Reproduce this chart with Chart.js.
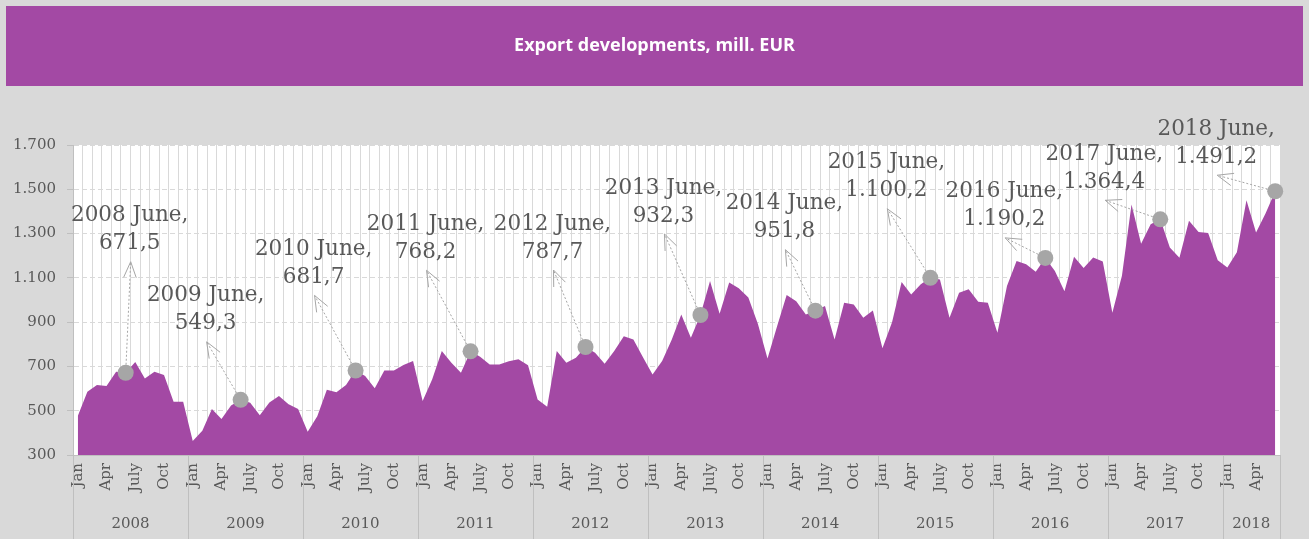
<!DOCTYPE html>
<html><head><meta charset="utf-8">
<script src="https://cdn.jsdelivr.net/npm/chart.js@4.4.0/dist/chart.umd.min.js"></script>
<style>html,body{margin:0;padding:0;background:#d9d9d9;overflow:hidden}</style>
</head><body>
<canvas id="c" width="1309" height="539"></canvas>
<script>
// ---- data ----
const chartTitle = 'Export developments, mill. EUR';
const years = [2008, 2009, 2010, 2011, 2012, 2013, 2014, 2015, 2016, 2017, 2018];
const monthTicks = ['Jan', '', '', 'Apr', '', '', 'July', '', '', 'Oct', '', ''];
const highlightMonth = 5; // June
const exp2008 = [476, 586, 616, 612, 676, 671.5, 720, 646, 676, 661, 541, 541];
const exp2009 = [363, 410, 508, 463, 524, 549.3, 536, 480, 537, 566, 529, 508];
const exp2010 = [405, 475, 595, 583, 616, 681.7, 657, 601, 682, 682, 706, 724];
const exp2011 = [544, 642, 770, 717, 672, 768.2, 744, 709, 709, 723, 732, 705];
const exp2012 = [551, 518, 770, 717, 739, 787.7, 762, 712, 770, 836, 822, 742];
const exp2013 = [663, 725, 821, 934, 829, 932.3, 1086, 938, 1079, 1053, 1011, 892];
const exp2014 = [736, 882, 1023, 994, 935, 951.8, 973, 822, 988, 980, 920, 953];
const exp2015 = [782, 900, 1081, 1025, 1071, 1100.2, 1093, 920, 1033, 1048, 992, 988];
const exp2016 = [852, 1063, 1176, 1161, 1128, 1190.2, 1131, 1040, 1195, 1145, 1192, 1174];
const exp2017 = [942, 1109, 1431, 1254, 1342, 1364.4, 1237, 1191, 1358, 1307, 1303, 1180];
const exp2018 = [1147, 1216, 1450, 1305, 1392, 1491.2];
const yTicks = [300, 500, 700, 900, 1100, 1300, 1500, 1700];

// ---- styling (callout arrow-head offsets from the marker, px) ----
const calloutOffsets = [[5,-111],[-34,-58],[-41,-75],[-44,-81],[-32,-77],[-36,-81],[-30,-61],[-43,-69],[-40,-20],[-55,-19],[-58,-16]];

const series = [exp2008, exp2009, exp2010, exp2011, exp2012, exp2013, exp2014, exp2015, exp2016, exp2017, exp2018];
const values = [].concat(...series);
const labels = [];
series.forEach((arr, k) => arr.forEach((v, m) => labels.push(years[k] + '-' + (m + 1))));

const SERIF = '"DejaVu Serif", "Liberation Serif", serif';
const TXT = '#595959';
const AXIS = '#bfbfbf';

function fmtThousands(n) {
  return String(n).replace(/\B(?=(\d{3})+(?!\d))/g, '.');
}
function fmtValue(v) {
  const parts = v.toFixed(1).split('.');
  return fmtThousands(parts[0]) + ',' + parts[1];
}

const decor = {
  id: 'decor',
  beforeDraw(chart) {
    const { ctx, chartArea: a, width } = chart;
    ctx.save();
    ctx.fillStyle = '#d9d9d9';
    ctx.fillRect(0, 0, chart.width, chart.height);
    ctx.fillStyle = '#a349a4';
    ctx.fillRect(6, 6, width - 12, 80);
    ctx.fillStyle = '#ffffff';
    ctx.font = 'bold 18px "Open Sans", sans-serif';
    ctx.textAlign = 'center';
    ctx.textBaseline = 'middle';
    ctx.fillText(chartTitle, width / 2, 46);
    ctx.fillStyle = '#ffffff';
    ctx.fillRect(a.left, a.top, a.right - a.left, a.bottom - a.top);
    ctx.restore();
  },
  afterDraw(chart) {
    const { ctx, chartArea: a } = chart;
    const xs = chart.scales.x, ys = chart.scales.y;
    const step = xs.getPixelForValue(1) - xs.getPixelForValue(0);
    ctx.save();
    // year groups
    ctx.strokeStyle = AXIS;
    ctx.lineWidth = 1;
    ctx.fillStyle = TXT;
    ctx.font = '15px ' + SERIF;
    ctx.textAlign = 'center';
    ctx.textBaseline = 'middle';
    let idx = 0;
    series.forEach((arr, k) => {
      const left = xs.getPixelForValue(idx) - step / 2;
      const right = xs.getPixelForValue(idx + arr.length - 1) + step / 2;
      ctx.beginPath();
      ctx.moveTo(Math.round(left) + 0.5, a.bottom);
      ctx.lineTo(Math.round(left) + 0.5, chart.height);
      ctx.stroke();
      if (k === series.length - 1) {
        ctx.beginPath();
        ctx.moveTo(Math.round(right) + 0.5, a.bottom);
        ctx.lineTo(Math.round(right) + 0.5, chart.height);
        ctx.stroke();
      }
      ctx.fillText(String(years[k]), (left + right) / 2, 524);
      idx += arr.length;
    });
    // callouts
    idx = 0;
    series.forEach((arr, k) => {
      const i = idx + highlightMonth;
      idx += arr.length;
      if (highlightMonth >= arr.length) return;
      const px = xs.getPixelForValue(i), py = ys.getPixelForValue(values[i]);
      const hx = px + calloutOffsets[k][0], hy = py + calloutOffsets[k][1];
      const ang = Math.atan2(hy - py, hx - px);
      ctx.strokeStyle = '#a6a6a6';
      ctx.lineWidth = 1;
      ctx.setLineDash([2, 2]);
      ctx.beginPath();
      ctx.moveTo(px + Math.cos(ang) * 8, py + Math.sin(ang) * 8);
      ctx.lineTo(hx, hy);
      ctx.stroke();
      ctx.setLineDash([]);
      const L = 17, da = 0.38;
      ctx.beginPath();
      ctx.moveTo(hx - Math.cos(ang - da) * L, hy - Math.sin(ang - da) * L);
      ctx.lineTo(hx, hy);
      ctx.lineTo(hx - Math.cos(ang + da) * L, hy - Math.sin(ang + da) * L);
      ctx.stroke();
      ctx.fillStyle = TXT;
      ctx.font = '21.5px ' + SERIF;
      ctx.textAlign = 'center';
      ctx.textBaseline = 'middle';
      ctx.fillText(years[k] + ' June,', hx - 1, hy - 46);
      ctx.fillText(fmtValue(values[i]), hx - 1, hy - 18);
    });
    ctx.restore();
  }
};

new Chart(document.getElementById('c'), {
  type: 'line',
  data: {
    labels: labels,
    datasets: [{
      data: values,
      fill: 'start',
      backgroundColor: '#a349a4',
      borderColor: '#a349a4',
      borderWidth: 0,
      tension: 0,
      clip: false,
      pointRadius: (c) => (c.dataIndex % 12 === highlightMonth ? 8 : 0),
      pointHoverRadius: (c) => (c.dataIndex % 12 === highlightMonth ? 8 : 0),
      pointBackgroundColor: '#a6a6a6',
      pointBorderWidth: 0
    }]
  },
  options: {
    responsive: false,
    animation: false,
    devicePixelRatio: 1,
    layout: { padding: { left: 13, right: 29, top: 145, bottom: 0 } },
    plugins: { legend: { display: false }, tooltip: { enabled: false }, title: { display: false } },
    events: [],
    scales: {
      x: {
        type: 'category',
        offset: true,
        grid: { offset: true, color: '#d9d9d9', drawTicks: false, lineWidth: 1 },
        border: { color: AXIS },
        ticks: {
          autoSkip: false,
          minRotation: 90,
          maxRotation: 90,
          padding: 8,
          color: TXT,
          font: { family: SERIF, size: 15 },
          callback: (v, i) => monthTicks[i % 12]
        },
        afterFit: (s) => { s.height = 84; }
      },
      y: {
        min: yTicks[0],
        max: yTicks[yTicks.length - 1],
        afterBuildTicks: (s) => { s.ticks = yTicks.map(v => ({ value: v })); },
        grid: { color: '#d9d9d9', tickColor: AXIS, tickLength: 6, tickBorderDash: [] },
        border: { color: AXIS, dash: [5, 3] },
        ticks: {
          padding: 11,
          color: TXT,
          font: { family: SERIF, size: 15 },
          callback: (v) => fmtThousands(v)
        },
        afterFit: (s) => { s.width = 60; }
      }
    }
  },
  plugins: [decor]
});
</script>
</body></html>
